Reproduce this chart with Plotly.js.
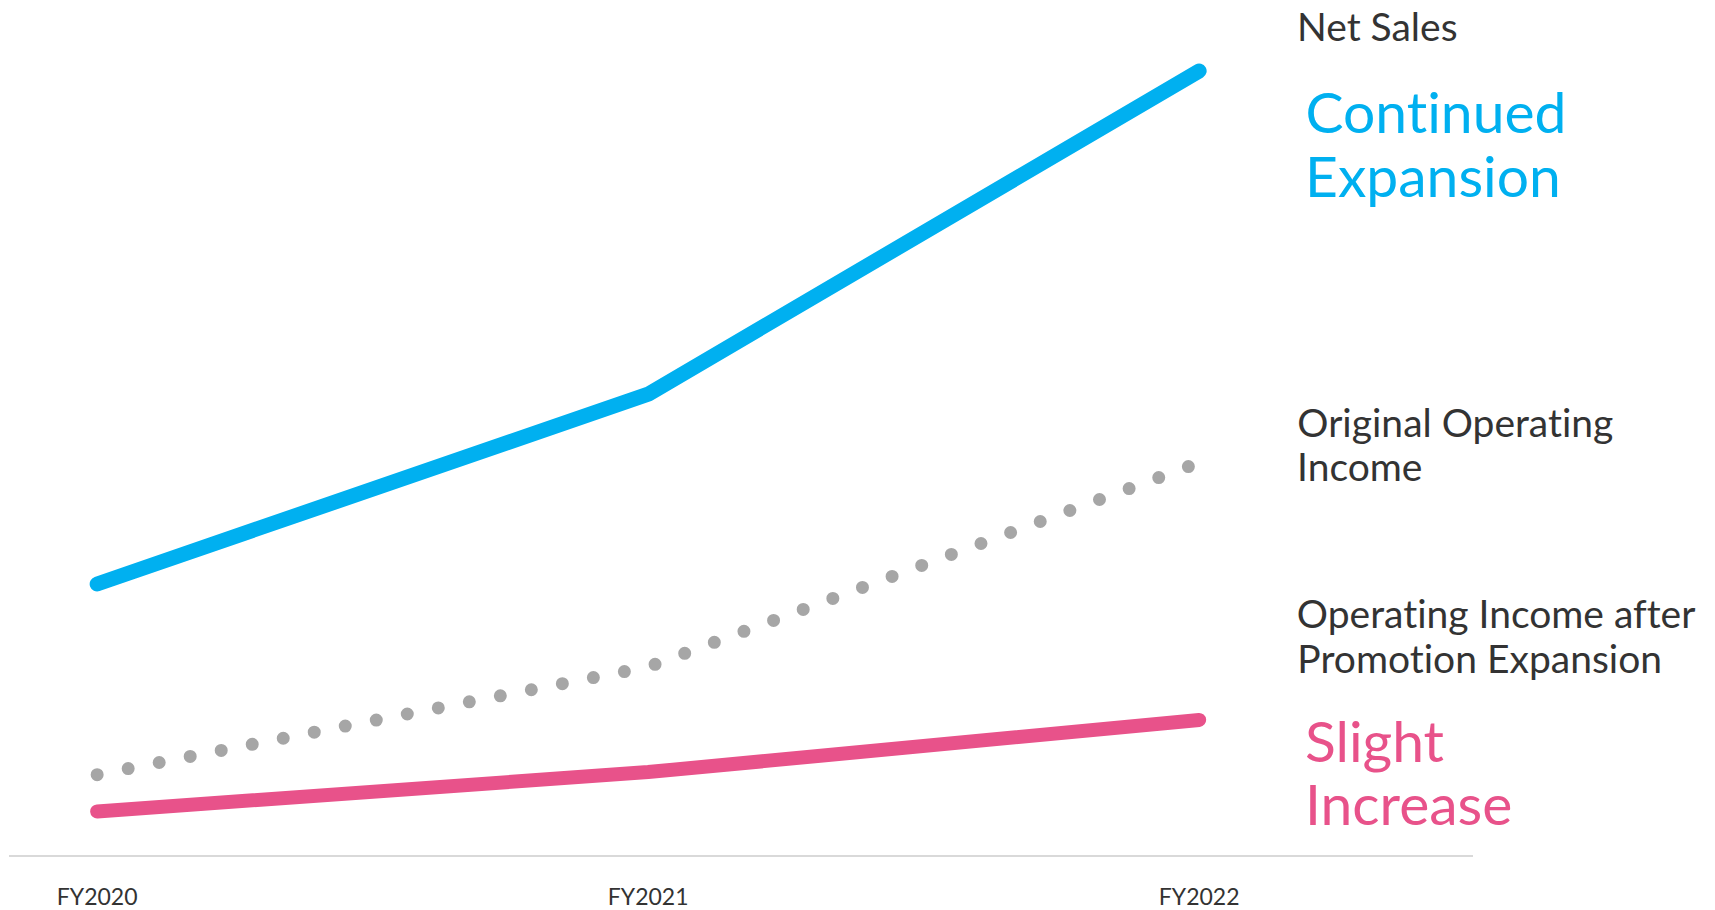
<!DOCTYPE html>
<html>
<head>
<meta charset="utf-8">
<script src="https://cdn.plot.ly/plotly-3.0.1.min.js"></script>
<style>
  html, body { margin: 0; padding: 0; background: #ffffff; }
  #chart { width: 1715px; height: 910px; }
  .scatterlayer .js-line { stroke-linecap: round !important; stroke-linejoin: round !important; }
  .main-svg text { font-variant-ligatures: none !important; font-feature-settings: "liga" 0, "clig" 0 !important; }
</style>
</head>
<body>
<div id="chart"></div>
<script>
// ---- data ----
const years = ["FY2020", "FY2021", "FY2022"];
const netSales = [31.7, 53.9, 91.7];
const originalOperatingIncome = [9.4, 22.0, 45.9];
const operatingIncomeAfterPromotion = [5.1, 9.7, 15.8];

const seriesNames = ["Net Sales", "Original Operating Income", "Operating Income after Promotion Expansion"];

// ---- layout geometry (pixels) ----
const W = 1715, H = 910;
const M = { l: 9, r: 242, t: 0, b: 55 };
const plotW = W - M.l - M.r, plotH = H - M.t - M.b;
const px2x = px => (px - M.l) / plotW;
const px2y = py => (H - M.b - py) / plotH;

const FONT = "Lato, 'Source Sans Pro', 'Noto Sans', sans-serif";
const DARK = "#333333";
const BLUE = "#00b0f0";
const PINK = "#e8528a";
const GRAY = "#a6a6a6";

const traces = [
  { x: years, y: netSales, name: seriesNames[0], mode: "lines",
    line: { color: BLUE, width: 15 }, hoverinfo: "skip" },
  { x: years, y: originalOperatingIncome, name: seriesNames[1], mode: "lines",
    line: { color: GRAY, width: 13, dash: "0px,31.6px" }, hoverinfo: "skip" },
  { x: years, y: operatingIncomeAfterPromotion, name: seriesNames[2], mode: "lines",
    line: { color: PINK, width: 14 }, hoverinfo: "skip" }
];

function label(text, px, baseline, size, color) {
  const center = baseline - 0.387 * size;
  return { text: text, xref: "paper", yref: "paper", x: px2x(px), y: px2y(center),
    xanchor: "left", yanchor: "middle", showarrow: false,
    font: { family: FONT, size: size, color: color } };
}

const annotations = [
  label("Net Sales", 1295, 41, 39, DARK),
  label("Continued", 1303, 133, 57, BLUE),
  label("Expansion", 1303, 197, 57, BLUE),
  label("Original Operating", 1295, 437, 39, DARK),
  label("Income", 1295, 481, 39, DARK),
  label("Operating Income after", 1295, 628, 39, DARK),
  label("Promotion Expansion", 1295, 673, 39, DARK),
  label("Slight", 1303, 762, 57, PINK),
  label("Increase", 1303, 825, 57, PINK)
];

const layout = {
  width: W, height: H,
  margin: M,
  paper_bgcolor: "#ffffff", plot_bgcolor: "#ffffff",
  showlegend: false,
  xaxis: {
    type: "category", range: [-0.16, 2.497],
    showgrid: false, zeroline: false,
    showline: true, linecolor: "#d9d9d9", linewidth: 2,
    ticks: "", ticklabelstandoff: 20,
    tickfont: { family: FONT, size: 23, color: DARK }
  },
  yaxis: {
    range: [0, 100], visible: false, showgrid: false, zeroline: false
  },
  annotations: annotations
};

Plotly.newPlot("chart", traces, layout, { displayModeBar: false, staticPlot: true });
</script>
</body>
</html>
